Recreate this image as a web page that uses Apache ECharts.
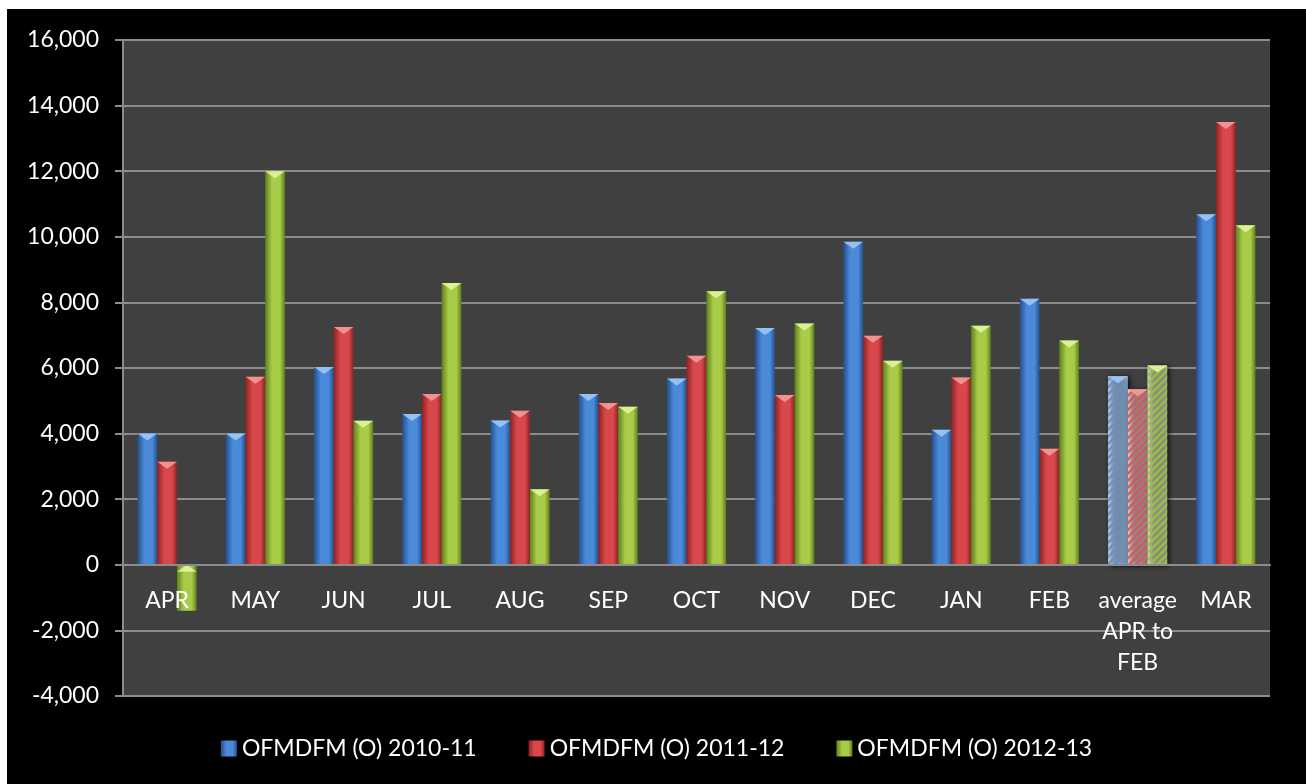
<!DOCTYPE html>
<html>
<head>
<meta charset="utf-8">
<script src="https://cdn.jsdelivr.net/npm/echarts@6/dist/echarts.min.js"></script>
<style>
  html, body { margin: 0; padding: 0; background: #fff; }
  #chart { position: absolute; left: 7px; top: 9px; width: 1299px; height: 775px; background: #000; }
</style>
</head>
<body>
<div id="chart"></div>
<script>
// categories + series values
const categories = ['APR', 'MAY', 'JUN', 'JUL', 'AUG', 'SEP', 'OCT', 'NOV', 'DEC', 'JAN', 'FEB', 'average\nAPR to\nFEB', 'MAR']
const seriesNames = ['OFMDFM (O) 2010-11', 'OFMDFM (O) 2011-12', 'OFMDFM (O) 2012-13']
const values2010 = [4000, 4000, 6030, 4600, 4400, 5210, 5680, 7220, 9850, 4120, 8110, 5750, 10690]
const values2011 = [3140, 5730, 7250, 5210, 4700, 4930, 6370, 5180, 6980, 5710, 3540, 5350, 13500]
const values2012 = [-1400, 12000, 4390, 8590, 2300, 4820, 8340, 7360, 6220, 7290, 6840, 6080, 10350]
const yTicks = { min: -4000, max: 16000, interval: 2000 }

const avgIndex = 11
const font = 'Lato, "Open Sans", sans-serif'

// [dark edge, highlight, cap colour, hatched base, hatch stripe]
const palette = [
  ['#23508f', '#4b8ad8', '#9cc8f7', '#d4e4f7', '#5a93d8'],
  ['#8e2223', '#d8484a', '#f59a98', '#f6d4d4', '#d9555a'],
  ['#5f7f1c', '#a8cc48', '#e2f59a', '#e6f1c8', '#9cc13e']
]

const allValues = [values2010, values2011, values2012]

const gradient = (p) => new echarts.graphic.LinearGradient(0, 0, 1, 0, [
  { offset: 0, color: p[0] },
  { offset: 0.35, color: p[1] },
  { offset: 0.75, color: p[1] },
  { offset: 1, color: p[0] }
])

const barSeries = allValues.map((vals, i) => ({
  type: 'bar',
  name: seriesNames[i],
  barGap: '0%',
  barCategoryGap: '33%',
  itemStyle: {
    color: gradient(palette[i]),
    shadowColor: 'rgba(0,0,0,0.55)',
    shadowBlur: 5,
    shadowOffsetX: 2,
    shadowOffsetY: 1
  },
  data: vals.map((v, k) => k === avgIndex ? {
    value: v,
    itemStyle: {
      color: palette[i][3],
      decal: {
        symbol: 'rect',
        symbolSize: 1,
        dashArrayX: [1, 0],
        dashArrayY: [2, 3],
        rotation: -Math.PI / 4,
        color: palette[i][4]
      }
    }
  } : v)
}))

// little bevel triangle on top of every bar
const capSeries = allValues.map((vals, i) => ({
  type: 'pictorialBar',
  name: seriesNames[i],
  barGap: '0%',
  barCategoryGap: '33%',
  symbol: 'triangle',
  symbolRotate: 180,
  symbolSize: ['100%', 7],
  symbolPosition: 'end',
  z: 3,
  itemStyle: { color: palette[i][2], opacity: 0.9 },
  data: vals.map((v) => v < 0 ? { value: v, symbolPosition: 'start' } : v)
}))

const option = {
  backgroundColor: '#000',
  textStyle: { fontFamily: font },
  grid: {
    left: 116,
    top: 31,
    right: 36,
    bottom: 88,
    containLabel: false,
    outerBoundsMode: 'none',
    show: true,
    backgroundColor: '#404040',
    borderWidth: 0
  },
  legend: {
    data: seriesNames,
    bottom: 19,
    left: 'center',
    itemWidth: 16,
    itemHeight: 16,
    itemGap: 52,
    icon: 'rect',
    textStyle: { color: '#fff', fontSize: 23, fontFamily: font }
  },
  xAxis: {
    type: 'category',
    data: categories,
    z: 5, // labels drawn over the negative APR bar
    // the zero line sits 131px above the grid bottom (-4000..0 range)
    offset: -131,
    axisLine: { onZero: false, lineStyle: { color: '#8c8c8c', width: 2 } },
    axisTick: { length: 6, lineStyle: { color: '#8c8c8c', width: 2 } },
    axisLabel: {
      interval: 0,
      color: '#fff',
      fontSize: 23,
      lineHeight: 31,
      margin: 20
    }
  },
  yAxis: {
    type: 'value',
    min: yTicks.min,
    max: yTicks.max,
    interval: yTicks.interval,
    axisLine: { show: true, lineStyle: { color: '#8c8c8c', width: 2 } },
    axisTick: { show: true, length: 8, lineStyle: { color: '#8c8c8c', width: 2 } },
    splitLine: { lineStyle: { color: '#8c8c8c', width: 2 } },
    axisLabel: {
      color: '#fff',
      fontSize: 23,
      margin: 24,
      formatter: (v) => v.toLocaleString('en-US')
    }
  },
  series: [...barSeries, ...capSeries]
}

const chart = echarts.init(document.getElementById('chart'))
chart.setOption(option)
window.addEventListener('resize', function () {
  chart.resize()
})
</script>
</body>
</html>
